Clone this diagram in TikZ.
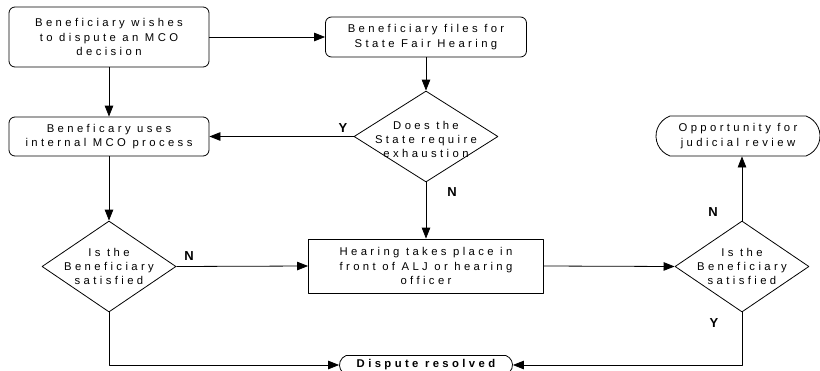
\documentclass[tikz,border=0pt]{standalone}
\usepackage{fontspec}
\setmainfont{Liberation Sans}
\newfontfamily\spacedfont[LetterSpace=30]{Liberation Sans}
\usetikzlibrary{shapes.geometric,shapes.misc,arrows.meta}
\begin{document}
\begin{tikzpicture}[x=1pt,y=-1pt,line width=0.8pt,line join=round,>={Triangle[length=11pt,width=8.5pt]},
  boxtext/.style={font=\spacedfont\fontsize{11.3}{14.3}\selectfont,align=center},
  rbox/.style={draw,rounded corners=6pt,boxtext,inner sep=0pt},
  sbox/.style={draw,boxtext,inner sep=0pt},
  decision/.style={draw,diamond,inner sep=0pt,minimum width=134pt,minimum height=91pt},
  terminal/.style={draw,rounded rectangle,rounded rectangle arc length=140,inner sep=0pt},
  yn/.style={font=\bfseries\fontsize{13}{13}\selectfont}]
\useasboundingbox (0,0) rectangle (820,370);

% boxes
\node[rbox,minimum width=200pt,minimum height=60pt] (wish) at (109,37) {Beneficiary wishes\\to dispute an MCO\\decision};
\node[rbox,minimum width=201pt,minimum height=40pt] (files) at (426,37) {Beneficiary files for\\State Fair Hearing};
\node[rbox,minimum width=200pt,minimum height=39pt] (uses) at (109,136.5) {Beneficary uses\\internal MCO process};
\node[sbox,minimum width=235pt,minimum height=54pt] (hear) at (426,266) {Hearing takes place in\\front of ALJ or hearing\\officer};

% decisions
\node[decision,minimum width=144pt,label={[boxtext,yshift=-3pt]center:Does the\\State require\\exhaustion}] (exh) at (426,136.5) {};
\node[decision,label={[boxtext]center:Is the\\Beneficiary\\satisfied}] (sat1) at (109,266.5) {};
\node[decision,label={[boxtext]center:Is the\\Beneficiary\\satisfied}] (sat2) at (742,266.5) {};

% end points
\node[terminal,boxtext,minimum width=164pt,minimum height=40pt] (judic) at (738,136) {Opportunity for\\judicial review};
\node[terminal,boxtext,font=\spacedfont\bfseries\fontsize{11.3}{13}\selectfont,minimum width=173pt,minimum height=19pt] (done) at (426,365) {Dispute resolved};

% connectors
\draw[->] (wish.east) -- (files.west);
\draw[->] (wish.south) -- (uses.north);
\draw[->] (files.south) -- (exh.north);
\draw[->] (exh.west) -- (uses.east);
\draw[->] (exh.south) -- (hear.north);
\draw[->] (uses.south) -- (sat1.north);
\draw[->] (sat1.east) -- (hear.west);
\draw[->] (hear.east) -- (sat2.west);
\draw[->] (sat2.north) -- (sat2.north |- judic.south);
\draw[->] (sat1.south) |- (done.west);
\draw[->] (sat2.south) |- (done.east);

\node[yn] (yExh) at (343,128) {Y};
\node[yn] (nExh) at (452,192) {N};
\node[yn] (nSat1) at (189,256) {N};
\node[yn] (nSat2) at (713,212) {N};
\node[yn] (ySat2) at (714,323) {Y};
\end{tikzpicture}
\end{document}
